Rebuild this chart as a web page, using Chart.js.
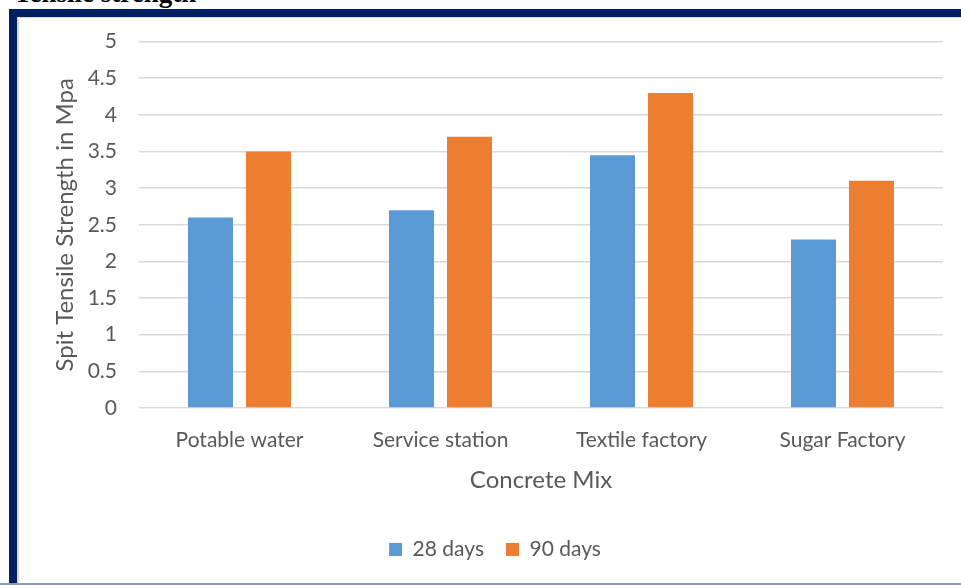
<!DOCTYPE html>
<html>
<head>
<meta charset="utf-8">
<script src="https://cdn.jsdelivr.net/npm/chart.js@4.4.1/dist/chart.umd.min.js"></script>
<style>
	body { margin: 0; background: #fff; width: 961px; height: 585px; overflow: hidden; position: relative; }
	#heading { position: absolute; left: 14px; top: -22px; font: bold 27px "Liberation Serif", "Times New Roman", serif; color: #000; white-space: nowrap; }
	#frame { position: absolute; left: 9px; top: 9px; width: 970px; height: 574px; border-left: 8px solid #002060; border-top: 8px solid #002060; box-sizing: border-box; }
	#inner { position: absolute; left: 0; top: 0; right: 0; bottom: 0; border-left: 2px solid #d9d9d9; border-top: 1px solid #d9d9d9; }
	#bottomline { position: absolute; left: 0; top: 583px; width: 961px; height: 2px; background: #8a9bb8; }
	#wrap { position: absolute; left: 19px; top: 7px; width: 942px; height: 575px; }
</style>
</head>
<body>
<div id="heading">Tensile strength</div>
<div id="frame"><div id="inner"></div></div>
<div id="bottomline"></div>
<div id="wrap"><canvas id="chart"></canvas></div>
<script>
	const categories = ['Potable water', 'Service station', 'Textile factory', 'Sugar Factory'];
	const days28 = [2.6, 2.7, 3.45, 2.3];
	const days90 = [3.5, 3.7, 4.3, 3.1];
	const seriesNames = ['28 days', '90 days'];

	const textColor = '#595959';
	const fontFamily = 'Lato, "Open Sans", sans-serif';

	var ctx = document.getElementById('chart').getContext('2d');
	new Chart(ctx, {
		type: 'bar',
		data: {
			labels: categories,
			datasets: [{
				label: seriesNames[0],
				data: days28,
				backgroundColor: '#5b9bd5',
				categoryPercentage: 0.577,
				barPercentage: 0.776
			}, {
				label: seriesNames[1],
				data: days90,
				backgroundColor: '#ed7d31',
				categoryPercentage: 0.577,
				barPercentage: 0.776
			}]
		},
		options: {
			responsive: true,
			maintainAspectRatio: false,
			animation: false,
			layout: {
				padding: { left: 28, right: 18, top: 0, bottom: 12 }
			},
			plugins: {
				tooltip: { enabled: false },
				legend: {
					position: 'bottom',
					labels: {
						boxWidth: 13,
						boxHeight: 13,
						padding: 22,
						color: textColor,
						font: { family: fontFamily, size: 21 }
					}
				}
			},
			scales: {
				x: {
					grid: { display: false },
					border: { display: false },
					ticks: {
						color: textColor,
						padding: 14,
						font: { family: fontFamily, size: 21, lineHeight: 1.0 }
					},
					title: {
						display: true,
						text: 'Concrete Mix',
						color: textColor,
						padding: { top: 3, bottom: 25 },
						font: { family: fontFamily, size: 24, lineHeight: 1.0 }
					}
				},
				y: {
					min: 0,
					max: 5,
					afterFit: function (scale) { scale.width = 92; },
					grid: { color: '#d9d9d9', lineWidth: 1.5, drawTicks: false },
					border: { display: false },
					ticks: {
						stepSize: 0.5,
						color: textColor,
						padding: 22,
						font: { family: fontFamily, size: 21 },
						callback: function (value) { return String(value); }
					},
					title: {
						display: true,
						text: 'Spit Tensile Strength in Mpa',
						color: textColor,
						padding: 4,
						font: { family: fontFamily, size: 24 }
					}
				}
			}
		}
	});
</script>
</body>
</html>
